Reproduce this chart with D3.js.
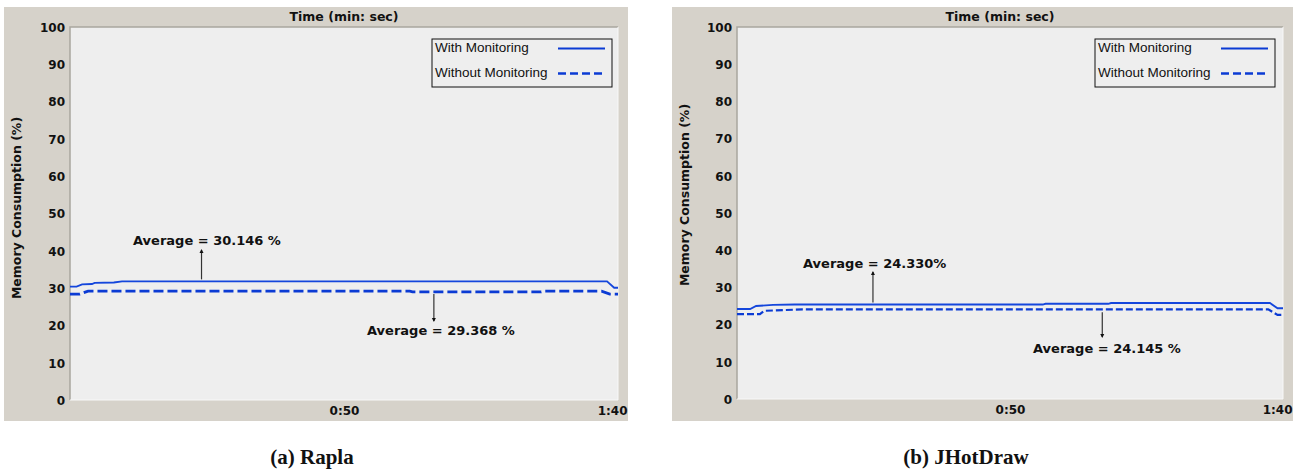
<!DOCTYPE html>
<html>
<head>
<meta charset="utf-8">
<script src="https://cdn.jsdelivr.net/npm/d3@7/dist/d3.min.js"></script>
<style>
  html, body { margin: 0; padding: 0; background: #ffffff; }
  svg { display: block; }
  .tick text { font-family: "DejaVu Sans", Verdana, sans-serif; font-weight: bold; font-size: 12px; fill: #111; }
</style>
</head>
<body>
<svg id="chart" width="1302" height="471"></svg>
<script>
// Memory consumption over a 100 s run, seconds -> percent
const yTicks = [0, 10, 20, 30, 40, 50, 60, 70, 80, 90, 100];
const xTicks = [50, 100];
const xTickLabels = ["0:50", "1:40"];
const seriesNames = ["With Monitoring", "Without Monitoring"];

const raplaTime =    [0, 1.2, 2.2, 4.0, 4.5, 8.0, 9.5, 50, 98.0, 99.3, 100];
const raplaWith =    [30.4, 30.4, 31.0, 31.1, 31.4, 31.5, 31.8, 31.8, 31.8, 30.1, 30.1];
const raplaTimeNo =  [0, 1.8, 3.3, 62, 62.5, 86, 86.5, 97, 98.5, 100];
const raplaWithout = [28.4, 28.4, 29.2, 29.2, 29.0, 29.0, 29.2, 29.2, 28.4, 28.4];
const raplaAverages = [30.146, 29.368];

const jhdTime =      [0, 2.4, 3.5, 6.6, 10.6, 56, 56.5, 68, 68.5, 97.6, 99.0, 100];
const jhdWith =      [24.2, 24.2, 25.0, 25.3, 25.4, 25.4, 25.6, 25.6, 25.8, 25.8, 24.4, 24.4];
const jhdTimeNo =    [0, 4.2, 5.0, 12, 97.3, 99.0, 100];
const jhdWithout =   [22.8, 22.8, 23.7, 24.1, 24.1, 22.6, 22.6];
const jhdAverages = [24.330, 24.145];

const captions = ["(a) Rapla", "(b) JHotDraw"];

const svg = d3.select("#chart");
const blue = "#0b3bd4";

function drawPanel(p) {
  const g = svg.append("g");
  // window-style grey frame
  g.append("rect").attr("x", p.frame[0]).attr("y", p.frame[1])
    .attr("width", p.frame[2] - p.frame[0]).attr("height", p.frame[3] - p.frame[1])
    .attr("fill", "#d6d2ca");

  const x = d3.scaleLinear().domain([0, 100]).range([p.plot[0], p.plot[2]]);
  const y = d3.scaleLinear().domain([0, 100]).range([p.plot[3], p.plot[1]]);

  // plot area
  g.append("rect").attr("x", p.plot[0]).attr("y", p.plot[1])
    .attr("width", p.plot[2] - p.plot[0]).attr("height", p.plot[3] - p.plot[1])
    .attr("fill", "#eeeeee");
  g.append("path")
    .attr("d", `M${p.plot[0]},${p.plot[3]}V${p.plot[1]}H${p.plot[2]}`)
    .attr("fill", "none").attr("stroke", "#a9a69f").attr("stroke-width", 1.5);
  g.append("path")
    .attr("d", `M${p.plot[0]},${p.plot[3]}H${p.plot[2]}V${p.plot[1]}`)
    .attr("fill", "none").attr("stroke", "#f8f8f8").attr("stroke-width", 1);

  // y axis
  const yAxis = g.append("g").attr("transform", `translate(${p.plot[0] - 5},0)`)
    .call(d3.axisLeft(y).tickValues(yTicks).tickSize(0).tickPadding(0));
  yAxis.select(".domain").remove();
  yAxis.selectAll(".tick text").attr("dy", "0.36em");

  // x axis
  const xAxis = g.append("g").attr("transform", `translate(0,${p.plot[3] + 6})`)
    .call(d3.axisBottom(x).tickValues(xTicks).tickSize(0).tickPadding(0)
      .tickFormat((d, i) => xTickLabels[i]));
  xAxis.select(".domain").remove();
  xAxis.selectAll(".tick text").attr("dy", "0.71em");
  xAxis.selectAll(".tick").filter(d => d === 100).select("text")
    .attr("text-anchor", "end").attr("x", p.frame[2] - 1 - x(100));

  // axis titles
  g.append("text").attr("x", p.titleX).attr("y", 21).attr("text-anchor", "middle")
    .style("font-family", "DejaVu Sans, Verdana, sans-serif").style("font-weight", "bold")
    .style("font-size", "12.5px").attr("fill", "#111").text("Time (min: sec)");
  g.append("text").attr("transform", `translate(${p.yTitleX},${p.yTitleY}) rotate(-90)`)
    .attr("text-anchor", "middle")
    .style("font-family", "DejaVu Sans, Verdana, sans-serif").style("font-weight", "bold")
    .style("font-size", "12.5px").attr("fill", "#111").text("Memory Consumption (%)");

  // series
  const line = d3.line().x(d => x(d[0])).y(d => y(d[1]));
  const withPts = p.tWith.map((t, i) => [t, p.vWith[i]]);
  const withoutPts = p.tWithout.map((t, i) => [t, p.vWithout[i]]);
  g.append("path").datum(withoutPts).attr("d", line).attr("fill", "none")
    .attr("stroke", blue).attr("stroke-width", p.dashWidth).attr("stroke-dasharray", p.dash);
  g.append("path").datum(withPts).attr("d", line).attr("fill", "none")
    .attr("stroke", "#1446dc").attr("stroke-width", 1.8);

  // legend
  const lg = g.append("g");
  lg.append("rect").attr("x", p.legend[0]).attr("y", p.legend[1])
    .attr("width", p.legend[2]).attr("height", 48)
    .attr("fill", "#eeeeee").attr("stroke", "#111").attr("stroke-width", 1);
  seriesNames.forEach((name, i) => {
    const ly = p.legend[1] + 9.5 + i * 25;
    lg.append("text").attr("x", p.legend[0] + 3).attr("y", ly + 3.5)
      .style("font-family", "Liberation Sans, Arial, sans-serif").style("font-size", "13.5px")
      .attr("fill", "#111").text(name);
    lg.append("line").attr("x1", p.legend[0] + p.legend[2] - 54).attr("x2", p.legend[0] + p.legend[2] - 7)
      .attr("y1", ly).attr("y2", ly)
      .attr("stroke", blue).attr("stroke-width", i === 0 ? 1.8 : 2.5)
      .attr("stroke-dasharray", i === 0 ? null : "8,4");
  });

  // average annotations
  const annFont = (sel) => sel.style("font-family", "DejaVu Sans, Verdana, sans-serif")
    .style("font-weight", "bold").style("font-size", "13px").attr("fill", "#111");
  p.notes.forEach(n => {
    const ax = x(n.t);
    const y0 = y(n.onLine) + n.gap;
    g.append("line").attr("x1", ax).attr("x2", ax).attr("y1", y0).attr("y2", n.tip)
      .attr("stroke", "#333").attr("stroke-width", 1.2);
    const dir = n.tip < y0 ? -1 : 1;
    g.append("path")
      .attr("d", `M${ax},${n.tip + dir * 1}l-2,${-dir * 4}h4z`)
      .attr("fill", "#111");
    annFont(g.append("text").attr("x", n.textX).attr("y", n.textY)).text(n.label);
  });

  // caption
  g.append("text").attr("x", p.captionX).attr("y", 464).attr("text-anchor", "middle")
    .style("font-family", "Liberation Serif, Times New Roman, serif").style("font-weight", "bold")
    .style("font-size", "21px").attr("fill", "#111").text(p.caption);
}

drawPanel({
  frame: [4, 7, 628, 421],
  plot: [70, 27, 618, 400],
  titleX: 344, yTitleX: 21, yTitleY: 208,
  tWith: raplaTime, vWith: raplaWith, tWithout: raplaTimeNo, vWithout: raplaWithout,
  dash: "10,4", dashWidth: 2.8,
  legend: [432, 39, 180],
  notes: [
    { t: 24, onLine: raplaWith[7], gap: -2, tip: 250, textX: 133, textY: 245,
      label: `Average = ${raplaAverages[0].toFixed(3)} %` },
    { t: 66.4, onLine: raplaWithout[3], gap: 3, tip: 321, textX: 367, textY: 335,
      label: `Average = ${raplaAverages[1].toFixed(3)} %` }
  ],
  caption: captions[0], captionX: 312
});

drawPanel({
  frame: [672, 7, 1293, 421],
  plot: [737, 27, 1283, 399],
  titleX: 1000, yTitleX: 689, yTitleY: 195,
  tWith: jhdTime, vWith: jhdWith, tWithout: jhdTimeNo, vWithout: jhdWithout,
  dash: "7,3", dashWidth: 2.2,
  legend: [1095, 39, 180],
  notes: [
    { t: 24.9, onLine: jhdWith[4], gap: -2, tip: 272, textX: 803, textY: 268,
      label: `Average = ${jhdAverages[0].toFixed(3)}%` },
    { t: 66.9, onLine: jhdWithout[3], gap: 3, tip: 337, textX: 1033, textY: 353,
      label: `Average = ${jhdAverages[1].toFixed(3)} %` }
  ],
  caption: captions[1], captionX: 966
});
</script>
</body>
</html>
